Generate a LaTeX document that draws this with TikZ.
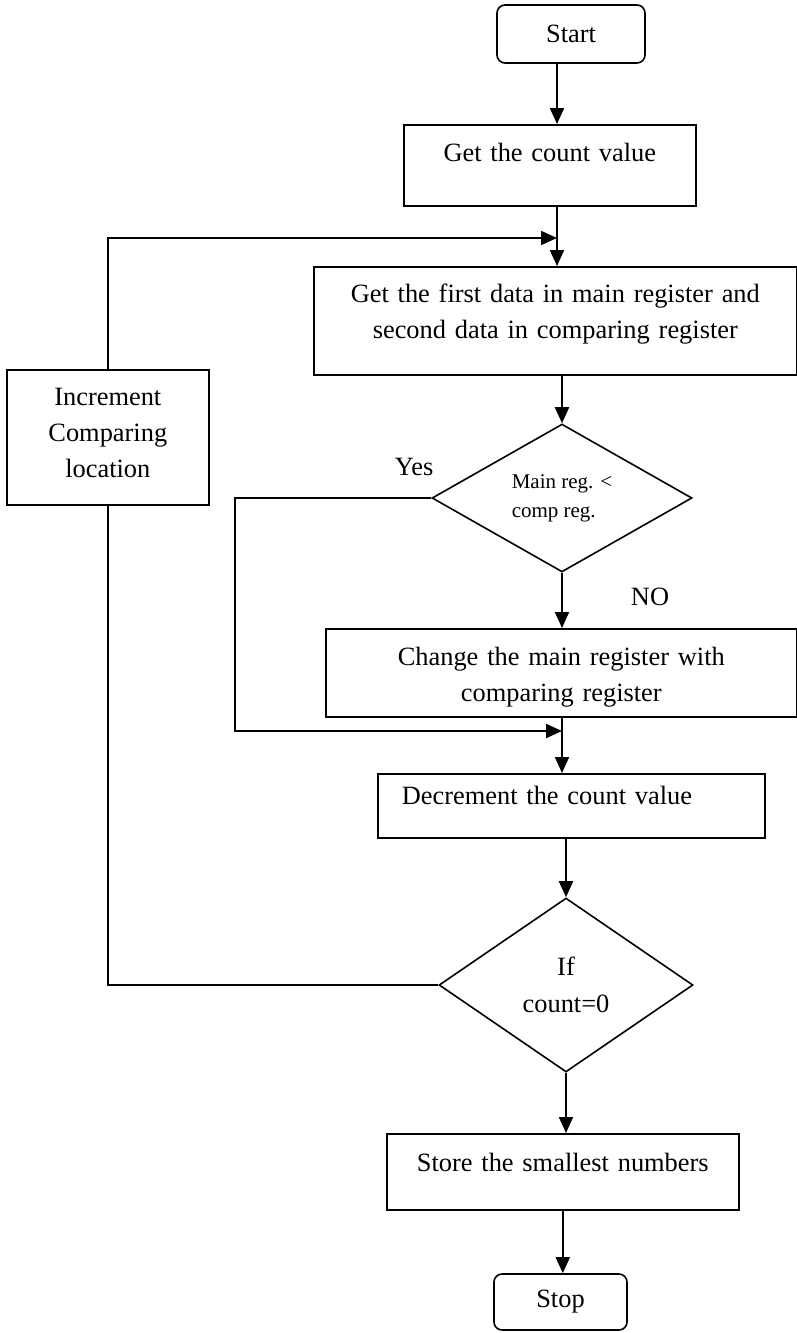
\documentclass[tikz,border=0pt]{standalone}
\usepackage{fontspec}
\setmainfont{Liberation Serif}
\usepackage{tikz}
\usetikzlibrary{positioning,shapes.geometric,arrows.meta}

\begin{document}
\begin{tikzpicture}[
    font=\fontsize{13.2pt}{18pt}\selectfont,
    box/.style={
      rectangle, draw=black, line width=0.8pt, anchor=north west,
      inner xsep=0pt, inner ysep=0pt, align=center
    },
    term/.style={
      rectangle, rounded corners=4pt, draw=black, line width=0.8pt,
      inner sep=0pt, align=center
    },
    decision/.style={
      diamond, draw=black, line width=0.8pt, inner sep=0pt
    },
    answer/.style={inner sep=0pt},
    arrow/.style={-{Triangle[length=8pt,width=7pt]}, line width=1pt},
    line/.style={line width=0.9pt},
  ]
  \useasboundingbox (0,0) rectangle (398.5pt,-666.5pt);

  %% Nodes
  \node[term, minimum width=74pt, minimum height=29pt] (start)
    at (285.5pt,-17pt) {Start};
  \node[box, text width=146pt, text height=18.5pt, text depth=22pt] (count)
    at (201.5pt,-62pt) {Get the count value};
  \node[box, text width=241.5pt, text height=18pt, text depth=36pt] (first)
    at (156.5pt,-133pt)
    {Get the first data in main register and\\second data in comparing register};
  \node[box, text width=101pt, text height=18pt, text depth=49.5pt] (incr)
    at (3pt,-184.5pt) {Increment\\Comparing\\location};
  \node[decision, minimum width=130pt, minimum height=70pt, align=left,
    font=\fontsize{10.5pt}{14.5pt}\selectfont] (cmp)
    at (281pt,-249pt) {Main reg. <\\comp reg.};
  \node[box, text width=235.5pt, text height=18.5pt, text depth=25.5pt] (change)
    at (162.5pt,-314pt) {Change the main register with\\comparing register};
  \node[box, align=left, inner xsep=12pt, text width=169.5pt,
    text height=15.5pt, text depth=16.5pt] (dec)
    at (188.5pt,-386.5pt) {Decrement the count value};
  \node[decision, minimum width=127pt, minimum height=87pt, align=center,
    font=\fontsize{13.2pt}{18.5pt}\selectfont] (zero)
    at (283pt,-492.5pt) {If\\count=0};
  \node[box, text width=176pt, text height=19pt, text depth=19pt] (store)
    at (193pt,-566.5pt) {Store the smallest numbers};
  \node[term, minimum width=66.5pt, minimum height=28pt] (stop)
    at (280.25pt,-651pt) {Stop};

  %% Branch labels
  \node[answer] (yes) at ([xshift=-8.5pt,yshift=15.5pt]cmp.west) {Yes};
  \node[answer] (no) at ([xshift=44pt,yshift=-12pt]cmp.south) {NO};

  %% Joints
  \coordinate (join1) at (278.5pt,-119pt);
  \coordinate (join2) at (281pt,-365.5pt);
  \coordinate (yesbend) at (117.5pt,-365.5pt);

  %% Arrows
  \draw[arrow] (start.south -| join1) -- (count.north -| join1);
  \draw[arrow] (count.south -| join1) -- (first.north -| join1);
  \draw[arrow] (first.south -| cmp.north) -- (cmp.north);
  \draw[arrow] (cmp.south) -- (cmp.south |- change.north);
  \draw[arrow] (change.south -| join2) -- (dec.north -| join2);
  \draw[arrow] (dec.south -| zero.north) -- (zero.north);
  \draw[arrow] (zero.south) -- (zero.south |- store.north);
  \draw[arrow] (store.south) -- (store.south |- stop.north);

  %% Loops
  \draw[line, arrow] (cmp.west) -| (yesbend) -- (join2);
  \draw[line] (zero.west) -| (incr.south);
  \draw[line, arrow] (incr.north) |- (join1);

\end{tikzpicture}
\end{document}
